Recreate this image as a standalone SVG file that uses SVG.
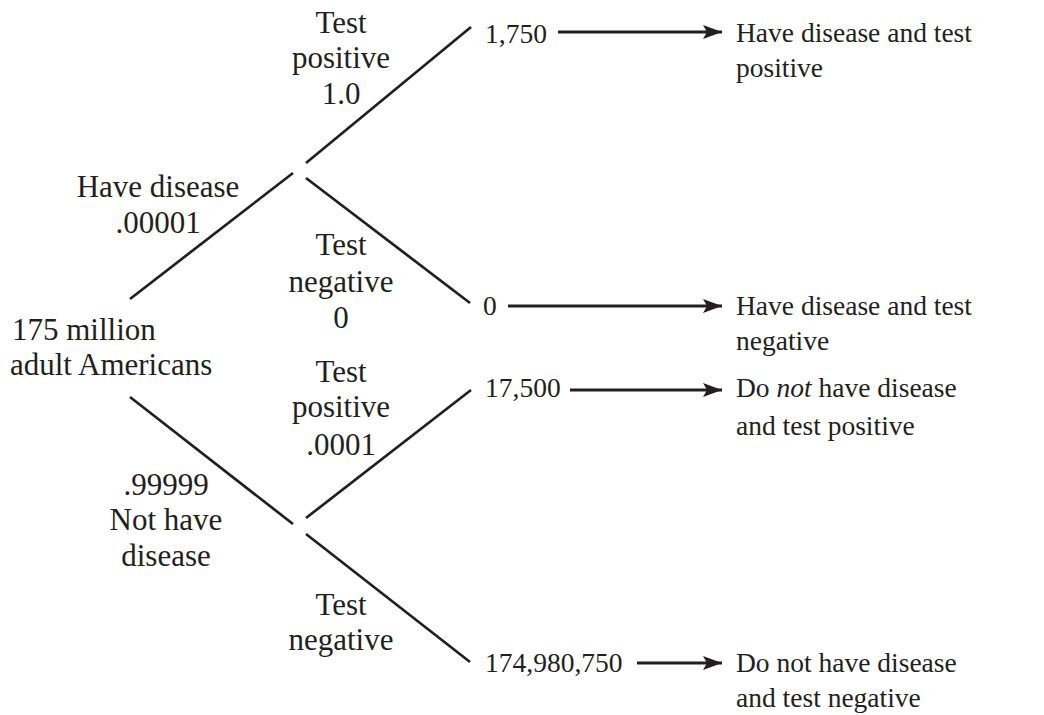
<svg xmlns="http://www.w3.org/2000/svg" width="1044" height="715" viewBox="0 0 1044 715" font-family="'Liberation Serif', 'Times New Roman', serif" font-size="28" fill="#231f20">
<style>
text{font-family:'Liberation Serif','Times New Roman',serif;font-size:27.5px;fill:#231f20}
.l{font-size:31px}
.c{text-anchor:middle}
.br{stroke:#231f20;stroke-width:2.7;fill:none;stroke-linecap:butt}
.ar{stroke:#231f20;stroke-width:3;fill:none}
</style>
<defs>
<marker id="ah" markerUnits="userSpaceOnUse" markerWidth="20" markerHeight="14" viewBox="0 0 20 14" refX="19" refY="7" orient="auto">
<path d="M0,0 L19,7 L0,14 L4,7 Z" fill="#231f20"/>
</marker>
</defs>
<rect width="1044" height="715" fill="#fff"/>
<g id="connectors">
<line class="br" x1="130" y1="299" x2="293" y2="173"/>
<line class="br" x1="130" y1="397" x2="293" y2="524"/>
<line class="br" x1="306" y1="163" x2="471" y2="27"/>
<line class="br" x1="306" y1="178" x2="470" y2="303"/>
<line class="br" x1="306" y1="518" x2="471" y2="390"/>
<line class="br" x1="306" y1="534" x2="470" y2="662"/>
<line class="ar" x1="558" y1="32" x2="722" y2="32" marker-end="url(#ah)"/>
<line class="ar" x1="508" y1="306" x2="722" y2="306" marker-end="url(#ah)"/>
<line class="ar" x1="570" y1="390" x2="722" y2="390" marker-end="url(#ah)"/>
<line class="ar" x1="637" y1="663" x2="722" y2="663" marker-end="url(#ah)"/>
</g>
<g id="root">
<text class="l" x="12" y="340">175 million</text>
<text class="l" x="10" y="375">adult Americans</text>
</g>
<g id="label-have-disease">
<text class="l c" x="158" y="197">Have disease</text>
<text class="l c" x="158" y="233">.00001</text>
</g>
<g id="label-not-have-disease">
<text class="l c" x="166" y="495">.99999</text>
<text class="l c" x="166" y="530">Not have</text>
<text class="l c" x="166" y="566">disease</text>
</g>
<g id="label-pos-1">
<text class="l c" x="341" y="33">Test</text>
<text class="l c" x="341" y="68">positive</text>
<text class="l c" x="341" y="104">1.0</text>
</g>
<g id="label-neg-1">
<text class="l c" x="341" y="255">Test</text>
<text class="l c" x="341" y="292">negative</text>
<text class="l c" x="341" y="328">0</text>
</g>
<g id="label-pos-2">
<text class="l c" x="341" y="382">Test</text>
<text class="l c" x="341" y="417">positive</text>
<text class="l c" x="341" y="455">.0001</text>
</g>
<g id="label-neg-2">
<text class="l c" x="341" y="615">Test</text>
<text class="l c" x="341" y="650">negative</text>
</g>
<g id="n1750"><text x="485" y="43">1,750</text></g>
<g id="n0"><text x="483" y="315">0</text></g>
<g id="n17500"><text x="485" y="397">17,500</text></g>
<g id="n174980750"><text x="485" y="672">174,980,750</text></g>
<g id="out1">
<text x="736" y="42">Have disease and test</text>
<text x="736" y="77">positive</text>
</g>
<g id="out2">
<text x="736" y="315">Have disease and test</text>
<text x="736" y="350">negative</text>
</g>
<g id="out3">
<text x="736" y="397">Do <tspan font-style="italic">not</tspan> have disease</text>
<text x="736" y="435">and test positive</text>
</g>
<g id="out4">
<text x="736" y="672">Do not have disease</text>
<text x="736" y="707">and test negative</text>
</g>
</svg>
